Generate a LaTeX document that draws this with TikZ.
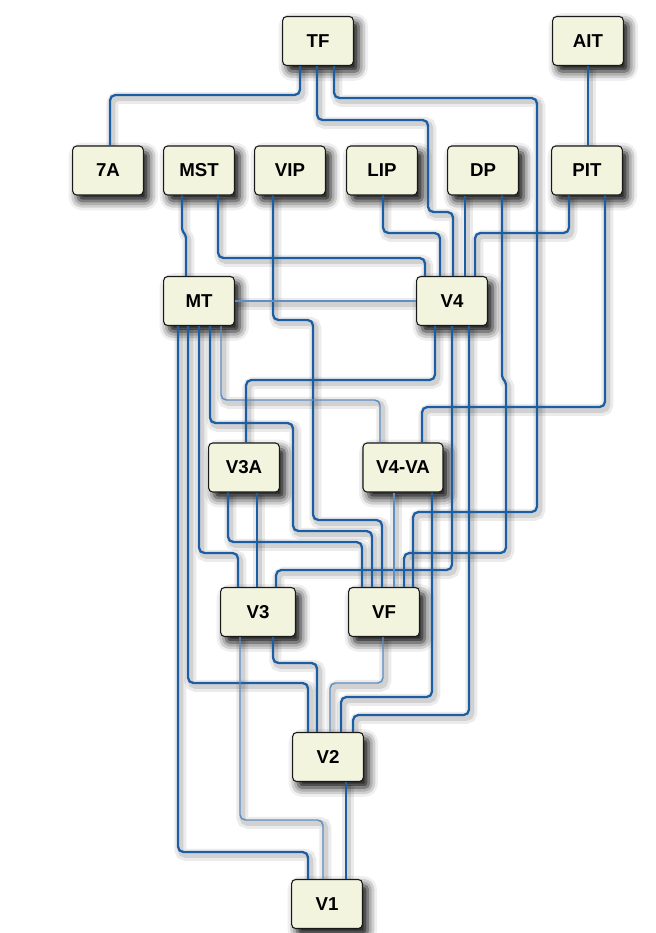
\documentclass[tikz,border=0pt]{standalone}
\usepackage{fontspec}
\setmainfont{Liberation Sans}
\usetikzlibrary{shadows.blur}
\definecolor{lineblue}{RGB}{28,94,164}
\definecolor{lightblue}{RGB}{95,142,194}
\definecolor{cream}{RGB}{242,244,222}
\pgfdeclarelayer{bg}
\pgfsetlayers{bg,main}
\tikzset{
  box/.style={draw=black!90, line width=0.8pt, fill=cream, rounded corners=3pt,
    minimum width=53pt, minimum height=36.75pt, inner sep=0pt,
    font=\fontsize{14}{16}\selectfont\bfseries,
    blur shadow={shadow xshift=4pt, shadow yshift=-4.5pt, shadow blur radius=7pt, shadow opacity=100}},
  conn/.style={draw=lineblue, line width=1.7pt, rounded corners=4pt},
  faint/.style={draw=lightblue, line width=1.1pt},
  lshadow/.style={draw=black, opacity=0.08, line width=9pt, rounded corners=4pt,
    transform canvas={shift={(1.8pt,-2.2pt)}}},
  lshadowb/.style={draw=black, opacity=0.11, line width=4.5pt, rounded corners=4pt,
    transform canvas={shift={(1.8pt,-2.2pt)}}}
}
\newcommand\cn[2][]{%
  \begin{pgfonlayer}{bg}\draw[lshadow] #2;\draw[lshadowb] #2;\end{pgfonlayer}%
  \draw[conn,#1] #2;}
\begin{document}
\begin{tikzpicture}[x=0.75pt,y=-0.75pt]
\useasboundingbox (0,0) rectangle (656,933);
% nodes
\node[box] (TF) at (318,41) {TF};
\node[box] (AIT) at (588,41) {AIT};
\node[box] (A7) at (108,170.5) {7A};
\node[box] (MST) at (199,170.5) {MST};
\node[box] (VIP) at (290,170.5) {VIP};
\node[box] (LIP) at (382,170.5) {LIP};
\node[box] (DP) at (483,170.5) {DP};
\node[box] (PIT) at (587,170.5) {PIT};
\node[box] (MT) at (199,301) {MT};
\node[box] (V4) at (452,301) {V4};
\node[box] (V3A) at (244,467.5) {V3A};
\node[box, minimum width=60pt] (V4VA) at (403,467.5) {V4-VA};
\node[box, minimum width=56pt] (V3) at (258,612) {V3};
\node[box] (VF) at (384,612) {VF};
\node[box] (V2) at (328,757) {V2};
\node[box] (V1) at (327,904) {V1};
% connectors from TF and AIT
\cn{(TF.south -| 300,0) |- (110,95) -- (A7.north -| 110,0)}
\cn{(TF.south -| 317,0) |- (428,120) |- (453,212) -- (V4.north -| 453,0)}
\cn{(TF.south -| 334,0) |- (537,98) |- (413,512) -- (VF.north -| 413,0)}
\cn{(AIT.south) -- (PIT.north -| AIT.south)}
% row 2
\cn{[rounded corners=1.2pt] (MST.south -| 182,0) -- (182,230) -- (186,236) -- (MT.north -| 186,0)}
\cn{(MST.south -| 218,0) |- (425,258) -- (V4.north -| 425,0)}
\cn{(VIP.south -| 273,0) |- (313,320) |- (382,520) -- (VF.north -| 382,0)}
\cn{(LIP.south -| 383,0) |- (440,233) -- (V4.north -| 440,0)}
\cn{(DP.south -| 465,0) -- (V4.north -| 465,0)}
\cn{(DP.south -| 502,0) [rounded corners=1.2pt] -- (502,377) -- (506,383) [rounded corners=4pt] |- (404,553) -- (VF.north -| 404,0)}
\cn{(PIT.south -| 569,0) |- (475,233) -- (V4.north -| 475,0)}
\cn{(PIT.south -| 605,0) |- (422,407) -- (V4VA.north -| 422,0)}
% MT
\cn[faint]{(MT.east) -- (V4.west)}
\cn[faint]{(MT.south -| 221,0) |- (380,400) -- (V4VA.north -| 380,0)}
\cn{(MT.south -| 210,0) |- (293,423) |- (372,531) -- (VF.north -| 372,0)}
\cn{(MT.south -| 199,0) |- (238,553) -- (V3.north -| 238,0)}
\cn{(MT.south -| 188,0) |- (308,683) -- (V2.north -| 308,0)}
\cn{(MT.south -| 178,0) |- (308,852) -- (V1.north -| 308,0)}
% V4
\cn{(V4.south -| 435,0) |- (246,380) -- (V3A.north -| 246,0)}
\cn{(V4.south -| 452,0) |- (276,570) -- (V3.north -| 276,0)}
\cn{(V4.south -| 469,0) |- (353,715) -- (V2.north -| 353,0)}
% V3A, V4-VA
\cn{(V3A.south -| 257,0) -- (V3.north -| 257,0)}
\cn{(V3A.south -| 228,0) |- (362,542) -- (VF.north -| 362,0)}
\cn[faint]{(V4VA.south -| 394,0) -- (VF.north -| 394,0)}
\cn{(V4VA.south -| 432,0) |- (341,697) -- (V2.north -| 341,0)}
% V3, VF, V2
\cn[faint]{(V3.south -| 240,0) |- (323,820) -- (V1.north -| 323,0)}
\cn{(V3.south -| 273,0) |- (317,663) -- (V2.north -| 317,0)}
\cn[faint]{(VF.south -| 383,0) |- (330,683) -- (V2.north -| 330,0)}
\cn{(V2.south -| 346,0) -- (V1.north -| 346,0)}
\end{tikzpicture}
\end{document}
